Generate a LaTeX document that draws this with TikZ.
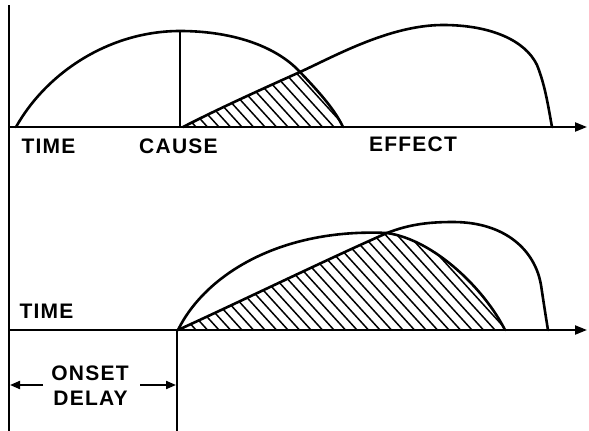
\documentclass[tikz,border=0pt]{standalone}
\usepackage{fontspec}
\setmainfont{Liberation Sans}[LetterSpace=6]
\usetikzlibrary{arrows.meta}
\begin{document}
\begin{tikzpicture}[x=1pt,y=-1pt,
  curve/.style={line width=2.6pt,line join=round,line cap=round},
  axis/.style={line width=2.2pt},
  arrowaxis/.style={line width=2.2pt,-{Triangle[length=12pt,width=9pt]}},
  hatch/.style={line width=1.5pt},
  lbl/.style={font=\fontsize{21}{24}\selectfont\bfseries,inner sep=0pt},
  dimarrow/.style={line width=2pt,-{Triangle[length=10pt,width=8pt]}}]
\useasboundingbox (0,0) rectangle (589,431);
% axes
\coordinate (vtop) at (9,5);
\coordinate (vbot) at (9,431);
\coordinate (t0) at (9,127);
\coordinate (t1) at (587,127);
\coordinate (b0) at (9,330);
\coordinate (b1) at (587,330);
\coordinate (d0) at (177,330);
\coordinate (d1) at (177,431);
\draw[axis] (vtop) -- (vbot);
\draw[axis] (d0) -- (d1);
% hatching top
\begin{scope}
\clip (183,127) .. controls (220,108) and (260,90) .. (300,72)
      .. controls (320,93) and (335,110) .. (343,127) -- cycle;
\foreach \x in {150,161.5,...,430} \draw[hatch] (\x,127) -- ++(-100,-110);
\end{scope}
% hatching bottom
\begin{scope}
\clip (178,330) .. controls (250,297) and (330,258) .. (387,233)
      .. controls (435,240) and (485,290) .. (505,330) -- cycle;
\foreach \x in {150,161.5,...,600} \draw[hatch] (\x,330) -- ++(-100,-110);
\end{scope}
\draw[arrowaxis] (t0) -- (t1);
\draw[arrowaxis] (b0) -- (b1);
% top cause curve
\draw[curve] (16,127) .. controls (47,72) and (110,31) .. (180,31)
  .. controls (230,31) and (275,45) .. (300,72)
  .. controls (320,93) and (335,110) .. (343,127);
\coordinate (cpk) at (180,31);
\coordinate (cbase) at (180,127);
\draw[axis] (cpk) -- (cbase);
% top effect curve
\draw[curve] (183,127) .. controls (220,108) and (260,90) .. (300,72)
  .. controls (335,56) and (390,25) .. (443,25)
  .. controls (490,25) and (525,40) .. (537,65)
  .. controls (545,85) and (548,105) .. (552,127);
% bottom cause curve
\draw[curve] (178,330) .. controls (205,275) and (280,228) .. (387,233)
  .. controls (435,240) and (485,290) .. (505,330);
% bottom effect curve
\draw[curve] (178,330) .. controls (250,297) and (330,258) .. (387,233)
  .. controls (410,224) and (430,222) .. (453,222)
  .. controls (505,222) and (535,250) .. (541,285)
  .. controls (544,305) and (546,318) .. (548,330);
% labels
\node[lbl] (time1) at (48.5,146) {TIME};
\node[lbl] (cause) at (178.5,146) {CAUSE};
\node[lbl] (effect) at (413,144.5) {EFFECT};
\node[lbl] (time2) at (46.5,311) {TIME};
\node[lbl] (onset) at (90,373.5) {ONSET};
\node[lbl] (delay) at (90.5,398.5) {DELAY};
\coordinate (la) at (43,385);
\coordinate (lb) at (10,385);
\coordinate (ra) at (140,385);
\coordinate (rb) at (176,385);
\draw[dimarrow] (la) -- (lb);
\draw[dimarrow] (ra) -- (rb);
\end{tikzpicture}
\end{document}
